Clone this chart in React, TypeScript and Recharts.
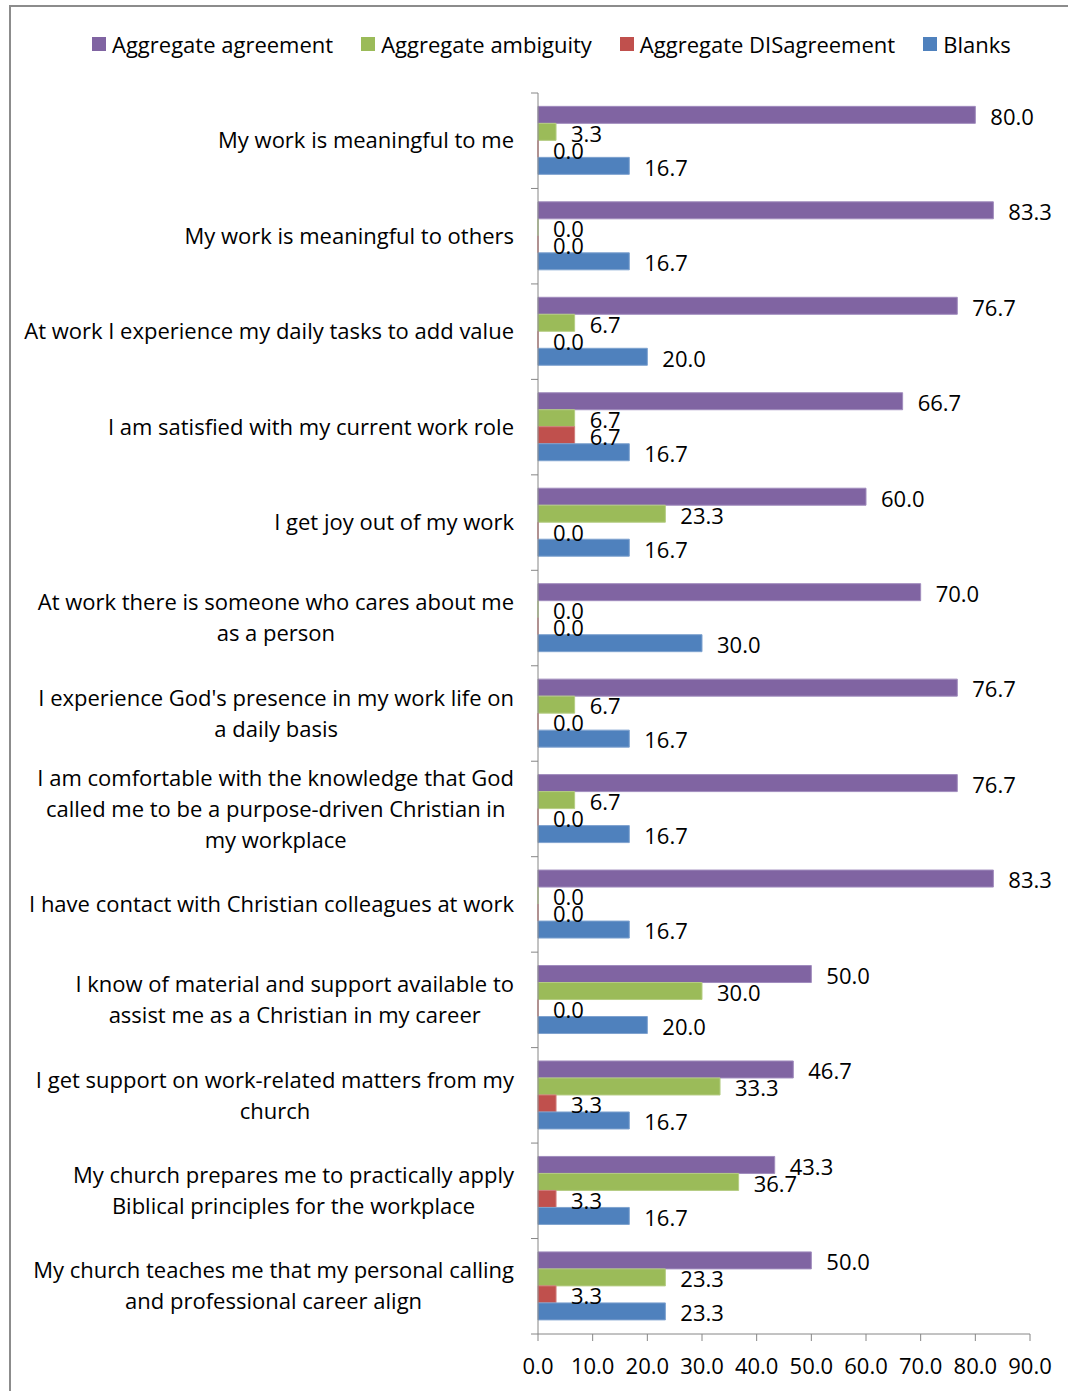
import React from 'react'
import { BarChart, Bar, XAxis, YAxis, Legend, LabelList } from 'recharts'

// survey items, top to bottom (line breaks as in the original)
const categories = [
  'My work is meaningful to me',
  'My work is meaningful to others',
  'At work I experience my daily tasks to add value',
  'I am satisfied with my current work role',
  'I get joy out of my work',
  'At work there is someone who cares about me\nas a person',
  "I experience God's presence in my work life on\na daily basis",
  'I am comfortable with the knowledge that God\ncalled me to be a purpose-driven Christian in\nmy workplace',
  'I have contact with Christian colleagues at work',
  'I know of material and support available to\nassist me as a Christian in my career',
  'I get support on work-related matters from my\nchurch',
  'My church prepares me to practically apply\nBiblical principles for the workplace',
  'My church teaches me that my personal calling\nand professional career align',
]

const seriesNames = ['Aggregate agreement', 'Aggregate ambiguity', 'Aggregate DISagreement', 'Blanks']

const agreement = [80.0, 83.3, 76.7, 66.7, 60.0, 70.0, 76.7, 76.7, 83.3, 50.0, 46.7, 43.3, 50.0]
const ambiguity = [3.3, 0.0, 6.7, 6.7, 23.3, 0.0, 6.7, 6.7, 0.0, 30.0, 33.3, 36.7, 23.3]
const disagreement = [0.0, 0.0, 0.0, 6.7, 0.0, 0.0, 0.0, 0.0, 0.0, 0.0, 3.3, 3.3, 3.3]
const blanks = [16.7, 16.7, 20.0, 16.7, 16.7, 30.0, 16.7, 16.7, 16.7, 20.0, 16.7, 16.7, 23.3]

const xTicks = [0, 10, 20, 30, 40, 50, 60, 70, 80, 90]

const FONT = '"Open Sans", "Noto Sans", sans-serif'
const FONT_SIZE = 22
const AXIS = '#868686'
const LINE_H = 31

const PLOT_TOP = 93
const PLOT_BOTTOM = 1334
const BAND = (PLOT_BOTTOM - PLOT_TOP) / categories.length

const data = categories.map((category, i) => ({
  category,
  agreement: agreement[i],
  ambiguity: ambiguity[i],
  disagreement: disagreement[i],
  blanks: blanks[i],
}))

let ctx: CanvasRenderingContext2D | null = null
function measure(s: string) {
  if (!ctx) ctx = document.createElement('canvas').getContext('2d')
  if (!ctx) return s.length * 10
  ctx.font = `${FONT_SIZE}px ${FONT}`
  return ctx.measureText(s).width
}

// category label: block right-aligned, lines centred inside it,
// tick marks sit on the band boundaries like in Excel
function CategoryTick(props: any) {
  const { x, y, payload, index } = props
  const lines = String(payload.value).split('\n')
  const blockW = Math.max(...lines.map(measure))
  const cx = x - blockW / 2
  const y0 = y - ((lines.length - 1) * LINE_H) / 2
  const axisX = x + 24
  return (
    <g>
      <line x1={axisX - 7} x2={axisX} y1={y - BAND / 2} y2={y - BAND / 2} stroke={AXIS} />
      {index === categories.length - 1 && (
        <line x1={axisX - 7} x2={axisX} y1={y + BAND / 2} y2={y + BAND / 2} stroke={AXIS} />
      )}
      <text textAnchor="middle" fontFamily={FONT} fontSize={FONT_SIZE} fill="#000">
        {lines.map((l, i) => (
          <tspan key={i} x={cx} y={y0 + i * LINE_H} dy="0.35em">
            {l}
          </tspan>
        ))}
      </text>
    </g>
  )
}

function LegendContent(props: any) {
  const items = [...(props.payload || [])].sort(
    (a: any, b: any) => seriesNames.indexOf(a.value) - seriesNames.indexOf(b.value),
  )
  return (
    <div
      style={{
        display: 'flex',
        alignItems: 'center',
        height: 28,
        fontFamily: FONT,
        fontSize: FONT_SIZE,
        color: '#000',
        whiteSpace: 'nowrap',
      }}
    >
      {items.map((it: any) => (
        <div key={it.value} style={{ display: 'flex', alignItems: 'center', marginRight: 28 }}>
          <span style={{ width: 14, height: 14, background: it.color, marginRight: 6 }} />
          <span>{it.value}</span>
        </div>
      ))}
    </div>
  )
}

const fmt = (v: any) => Number(v).toFixed(1)

export default function App() {
  const labelProps = {
    position: 'right' as const,
    offset: 15,
    formatter: fmt,
    fill: '#000',
    fontSize: FONT_SIZE,
    fontFamily: FONT,
    dy: 2,
  }
  return (
    <div
      style={{
        position: 'absolute',
        left: 0,
        top: 0,
        width: 1068,
        height: 1391,
        overflow: 'hidden',
        background: '#fff',
      }}
    >
      <div
        style={{
          position: 'absolute',
          left: 9,
          top: 5,
          width: 1200,
          height: 1500,
          borderTop: '2px solid #8c8c8c',
          borderLeft: '2px solid #8c8c8c',
        }}
      />
      <div style={{ position: 'absolute', left: 0, top: 0 }}>
        <BarChart
          width={1068}
          height={1391}
          data={data}
          layout="vertical"
          barCategoryGap="14%"
          barGap={0}
          margin={{ top: 65, right: 38, bottom: 17, left: 0 }}
        >
          <Legend
            verticalAlign="top"
            align="left"
            content={<LegendContent />}
            wrapperStyle={{ top: 30, left: 92, width: 980 }}
          />
          <XAxis
            type="number"
            domain={[0, 90]}
            ticks={xTicks}
            interval={0}
            tickFormatter={fmt}
            tickSize={7}
            tickMargin={17}
            height={40}
            axisLine={{ stroke: AXIS }}
            tickLine={{ stroke: AXIS }}
            tick={{ fill: '#000', fontSize: FONT_SIZE, fontFamily: FONT }}
          />
          <YAxis
            type="category"
            dataKey="category"
            width={538}
            interval={0}
            tickLine={false}
            tickSize={7}
            tickMargin={17}
            axisLine={{ stroke: AXIS }}
            tick={<CategoryTick />}
          />
          <Bar dataKey="agreement" name={seriesNames[0]} fill="#8064A2" stroke="#a08cbd" minPointSize={0.01} isAnimationActive={false}>
            <LabelList dataKey="agreement" {...labelProps} />
          </Bar>
          <Bar dataKey="ambiguity" name={seriesNames[1]} fill="#9BBB59" stroke="#b5cd83" minPointSize={0.01} isAnimationActive={false}>
            <LabelList dataKey="ambiguity" {...labelProps} />
          </Bar>
          <Bar dataKey="disagreement" name={seriesNames[2]} fill="#C0504D" stroke="#d07d7b" minPointSize={0.01} isAnimationActive={false}>
            <LabelList dataKey="disagreement" {...labelProps} />
          </Bar>
          <Bar dataKey="blanks" name={seriesNames[3]} fill="#4F81BD" stroke="#7ea2cf" minPointSize={0.01} isAnimationActive={false}>
            <LabelList dataKey="blanks" {...labelProps} />
          </Bar>
        </BarChart>
      </div>
    </div>
  )
}
